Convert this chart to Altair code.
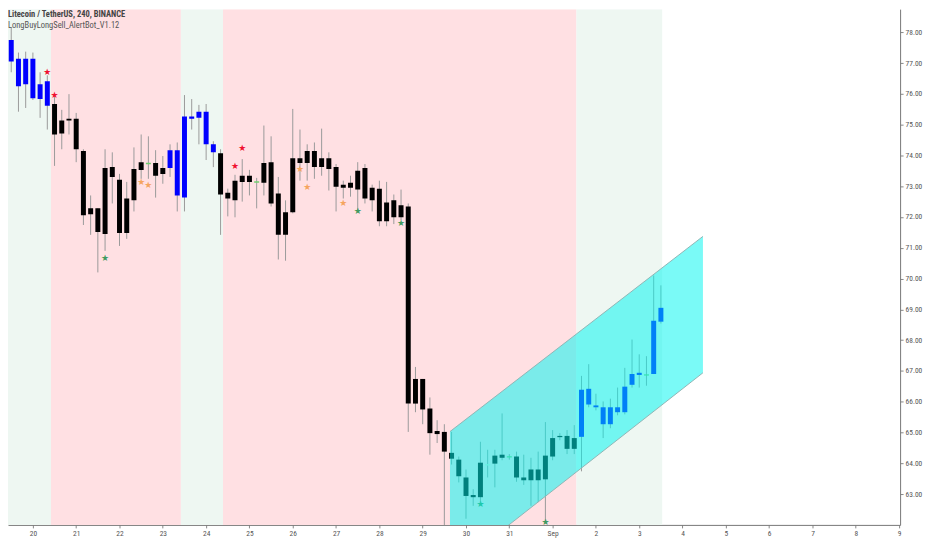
import altair as alt
import pandas as pd

title_line1 = "Litecoin / TetherUS, 240, BINANCE"
title_line2 = "LongBuyLongSell_AlertBot_V1.12"

# 4h candles starting Aug 19 08:00 (x in day-of-August units, Sep 1 = 32)
start_day = 19 + 8 / 24
bar_step = 4 / 24

opens = [77.75, 77.05, 77.14, 77.14, 77.14, 76.31, 76.41, 75.67, 75.13, 75.19,
         75.19, 74.14, 72.28, 72.28, 73.59, 73.62, 73.21, 72.60, 73.56, 73.78,
         73.76, 73.75, 73.59, 73.59, 72.70, 72.63, 75.19, 75.22, 75.42, 74.36,
         74.07, 72.79, 73.18, 73.34, 73.34, 73.16, 73.75, 73.78, 72.76, 72.15,
         73.91, 73.91, 74.14, 74.14, 73.91, 73.91, 73.62, 73.05, 73.11, 73.50,
         73.59, 72.95, 72.92, 72.47, 72.54, 72.38, 72.34, 66.74, 66.74, 65.78,
         65.05, 65.02, 64.34, 64.12, 63.54, 62.97, 64.02, 63.97, 64.25, 64.28,
         64.23, 64.22, 63.54, 63.80, 63.80, 64.25, 64.82, 64.89, 64.89, 64.82,
         64.86, 65.91, 65.88, 65.82, 65.82, 65.82, 65.66, 66.55, 66.87, 66.89,
         66.90, 68.60]
closes = [78.62, 77.75, 76.25, 76.31, 75.86, 75.83, 75.61, 74.68, 74.71, 75.13,
          74.20, 72.06, 72.09, 71.51, 71.45, 73.30, 71.48, 71.48, 72.54, 73.53,
          73.71, 73.34, 73.40, 74.17, 74.17, 75.26, 75.26, 75.42, 74.36, 74.10,
          72.73, 72.60, 72.54, 73.14, 73.14, 73.11, 73.11, 72.44, 71.42, 71.42,
          72.15, 73.75, 73.75, 73.62, 73.62, 73.56, 72.98, 72.95, 72.95, 72.89,
          72.60, 72.54, 71.86, 71.86, 71.99, 71.99, 65.94, 65.94, 65.75, 64.98,
          64.95, 64.38, 64.15, 63.58, 62.94, 62.90, 62.90, 63.93, 63.99, 64.18,
          64.19, 63.54, 63.45, 63.45, 63.45, 63.48, 64.22, 64.85, 64.47, 64.47,
          66.39, 66.42, 65.82, 65.27, 65.27, 65.66, 66.49, 66.90, 66.94, 66.85,
          68.63, 69.05]
highs = [78.95, 78.14, 77.34, 77.37, 77.34, 76.70, 76.60, 75.96, 75.48, 75.99,
         75.38, 74.20, 72.70, 72.28, 74.20, 74.10, 73.40, 73.14, 74.26, 74.68,
         74.62, 74.17, 73.98, 74.36, 74.42, 75.96, 75.83, 75.64, 75.67, 74.46,
         74.20, 72.92, 73.37, 73.88, 73.53, 73.27, 74.97, 74.62, 73.30, 72.54,
         75.51, 74.84, 74.36, 74.42, 74.87, 74.10, 73.72, 73.18, 73.34, 73.78,
         73.72, 73.05, 73.18, 73.14, 72.73, 72.89, 72.44, 67.13, 66.74, 66.14,
         65.40, 65.27, 65.02, 64.22, 63.80, 63.16, 64.70, 64.44, 64.44, 65.62,
         64.30, 64.38, 64.28, 64.18, 64.38, 65.34, 65.08, 64.98, 65.08, 65.24,
         66.84, 67.22, 66.26, 66.01, 66.10, 66.46, 67.10, 68.02, 67.54, 67.48,
         70.10, 69.78]
lows = [77.24, 76.70, 75.42, 75.54, 75.80, 75.22, 74.84, 73.66, 74.20, 74.68,
        73.78, 71.74, 71.42, 70.20, 70.90, 72.44, 71.06, 71.29, 72.18, 73.24,
        73.24, 72.63, 73.08, 73.30, 72.18, 72.18, 74.84, 74.36, 73.85, 73.62,
        71.42, 72.02, 71.99, 72.50, 72.70, 72.28, 72.70, 72.34, 70.62, 70.58,
        72.12, 73.18, 73.18, 73.24, 73.34, 72.86, 72.18, 72.60, 72.66, 72.22,
        72.44, 72.18, 71.70, 71.70, 71.77, 71.90, 65.02, 65.66, 65.27, 64.28,
        64.66, 61.90, 63.96, 63.38, 62.20, 62.62, 62.74, 63.54, 63.22, 64.10,
        64.12, 63.40, 63.30, 62.62, 62.74, 62.10, 64.10, 64.75, 64.30, 64.30,
        63.74, 65.82, 65.72, 64.82, 65.14, 65.56, 65.59, 66.46, 66.46, 66.52,
        66.90, 68.54]
bar_colors = (["blue"] * 7 + ["black"] * 13 + ["green"] + ["black"] * 2 + ["blue"] * 7
              + ["black"] * 5 + ["green"] + ["black"] * 31 + ["pale"] + ["black"] * 2
              + ["green"] + ["black"] * 9 + ["blue"] * 9 + ["green"] + ["blue"] * 2)

# signal stars: candle number (1-based), price, colour
star_bar = [7, 8, 15, 20, 21, 33, 34, 42, 43, 48, 50, 56, 67, 76]
star_price = [76.70, 75.96, 70.68, 73.14, 73.05, 73.66, 74.23, 73.56, 72.98,
              72.44, 72.18, 71.80, 62.68, 62.10]
star_kind = ["red", "red", "green", "orange", "orange", "red", "red", "orange",
             "orange", "orange", "green", "green", "green", "green"]

# background session bands (day units)
band_start = [19.2, 20.417, 23.417, 24.39, 32.55]
band_end = [20.417, 23.417, 24.39, 32.55, 34.53]
band_kind = ["green", "pink", "green", "pink", "green"]

# parallel channel
chan_t = [29.63, 35.47]
chan_upper = [65.03, 71.37]
chan_lower = [60.50, 66.94]

day_ticks = list(range(20, 41))
price_ticks = list(range(63, 79))

n = len(opens)
candles = pd.DataFrame({
    "t": [start_day + i * bar_step for i in range(n)],
    "open": opens, "close": closes, "high": highs, "low": lows, "kind": bar_colors,
})
stars = pd.DataFrame({
    "t": [start_day + (b - 1) * bar_step for b in star_bar],
    "price": star_price, "kind": star_kind,
})
bands = pd.DataFrame({"start": band_start, "end": band_end, "kind": band_kind})
channel = pd.DataFrame({"t": chan_t, "upper": chan_upper, "lower": chan_lower})
titles = pd.DataFrame({"line1": [title_line1], "line2": [title_line2]})

FONT = "Liberation Sans Narrow, Roboto Condensed, Roboto, sans-serif"
x_dom = [19.4253, 40.023]
y_dom = [62.0, 78.75]

x_axis = alt.Axis(values=day_ticks, grid=False, labelExpr="datum.value == 32 ? 'Sep' : (datum.value > 32 ? '' + (datum.value - 31) : '' + datum.value)",
                  labelFontSize=7.5, labelColor="#555555", labelFont=FONT, tickColor="#888888",
                  tickSize=3, domainColor="#777777", labelPadding=2, title=None, labelFlush=False)
y_axis = alt.Axis(values=price_ticks, format=".2f", grid=False, orient="right",
                  labelFontSize=7.5, labelColor="#555555", labelFont=FONT, tickColor="#888888",
                  tickSize=3, domainColor="#777777", labelPadding=2, title=None)

def X(field):
    return alt.X(field, type="quantitative",
                 scale=alt.Scale(domain=x_dom, nice=False, zero=False, padding=0), axis=x_axis)

def Y(field):
    return alt.Y(field, type="quantitative",
                 scale=alt.Scale(domain=y_dom, nice=False, zero=False, padding=0), axis=y_axis)

band_layer = alt.Chart(bands).mark_rect(clip=True).encode(
    x=X("start"), x2="end",
    color=alt.Color("kind:N", scale=alt.Scale(domain=["green", "pink"], range=["#eef7f2", "#ffe0e3"]), legend=None),
)

wick_layer = alt.Chart(candles).mark_rule(color="#9a9a9a", strokeWidth=1, clip=True).encode(
    x=X("t"), y=Y("low"), y2="high",
)

body_layer = alt.Chart(candles).mark_bar(size=5, clip=True).encode(
    x=X("t"), y=Y("open"), y2="close",
    color=alt.Color("kind:N", scale=alt.Scale(domain=["blue", "black", "green", "pale"],
                                              range=["#0000ff", "#000000", "#6fcf6f", "#d4efd4"]), legend=None),
)

star_layer = alt.Chart(stars).mark_text(text="★", fontSize=9, baseline="middle", align="center",
                                        font="DejaVu Sans", clip=True).encode(
    x=X("t"), y=Y("price"),
    color=alt.Color("kind:N", scale=alt.Scale(domain=["red", "orange", "green"],
                                              range=["#f01030", "#f5a55e", "#3f9a60"]), legend=None),
)

channel_fill = alt.Chart(channel).mark_area(color="#00f5f0", opacity=0.52, clip=True).encode(
    x=X("t"), y=Y("upper"), y2="lower",
)
channel_top = alt.Chart(channel).mark_line(color="#8fb5b5", strokeWidth=1, clip=True).encode(
    x=X("t"), y=Y("upper"),
)
channel_bottom = alt.Chart(channel).mark_line(color="#8fb5b5", strokeWidth=1, clip=True).encode(
    x=X("t"), y=Y("lower"),
)

title1 = alt.Chart(titles).mark_text(align="left", baseline="alphabetic", fontSize=8.5, fontWeight="bold",
                                     font=FONT, color="#444444").encode(
    x=alt.value(0), y=alt.value(8), text="line1:N")
title2 = alt.Chart(titles).mark_text(align="left", baseline="alphabetic", fontSize=8.5,
                                     font=FONT, color="#555555").encode(
    x=alt.value(0), y=alt.value(19), text="line2:N")

chart = alt.layer(
    band_layer, wick_layer, body_layer, star_layer, channel_fill, channel_top, channel_bottom, title1, title2
).resolve_scale(color="independent").properties(
    width=896, height=518,
    padding={"left": 0, "top": 0, "right": 2, "bottom": 0},
    background="#ffffff",
).configure_view(stroke=None)

chart.save("out.html", embed_options={"renderer": "svg", "actions": False})
